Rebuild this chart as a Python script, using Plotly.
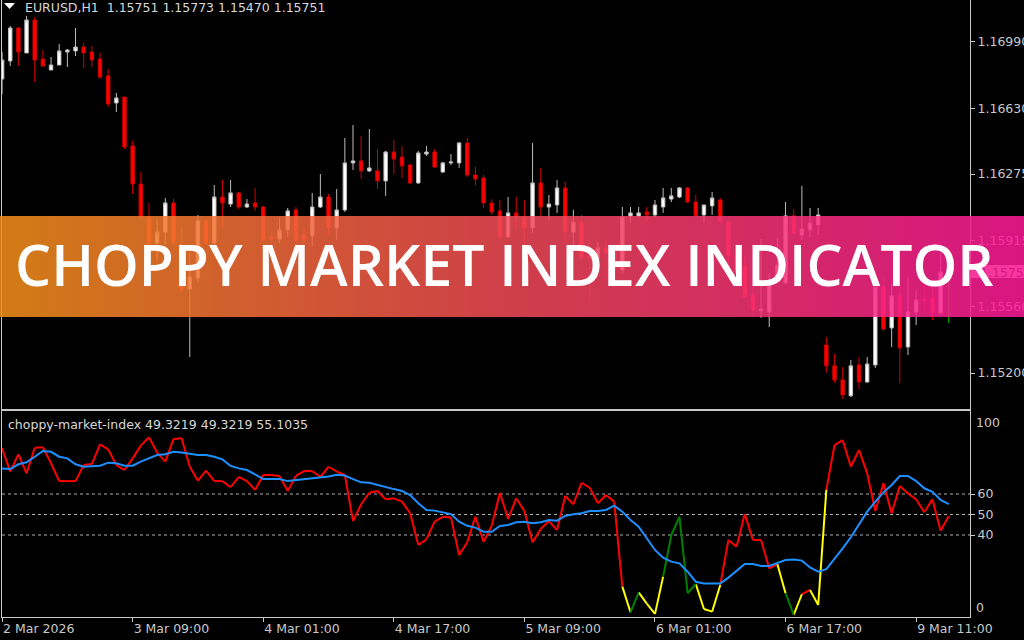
import base64
import plotly.graph_objects as go

# ---------------- data ----------------
opens = [1.16788,1.16886,1.17064,1.16929,1.17107,1.16896,1.16837,1.16864,1.16934,1.16940,
         1.16961,1.16934,1.16896,1.16805,1.16659,1.16691,1.16427,1.16221,1.16043,1.15903,
         1.15962,1.16119,1.15892,1.15654,1.15714,1.16022,1.15903,1.16151,1.16113,1.16173,
         1.16097,1.16119,1.16097,1.15935,1.15924,1.15973,1.16081,1.15946,1.15941,1.16097,
         1.16151,1.15984,1.16081,1.16335,1.16346,1.16292,1.16292,1.16238,1.16394,1.16367,
         1.16324,1.16227,1.16383,1.16394,1.16286,1.16335,1.16335,1.16443,1.16270,1.16254,
         1.16119,1.16076,1.15935,1.16065,1.16043,1.15984,1.16227,1.16097,1.16108,1.16200,
         1.15962,1.16016,1.15833,1.15822,1.15876,1.15849,1.15757,1.16049,1.16049,1.16070,
         1.16054,1.16097,1.16140,1.16151,1.16200,1.16124,1.16054,1.16103,1.16135,1.16016,
         1.15833,1.15779,1.15622,1.15536,1.15530,1.15692,1.15687,1.16049,1.15946,1.15973,
         1.16000,1.15352,1.15239,1.15163,1.15077,1.15244,1.15152,1.15244,1.15665,1.15444,
         1.15617,1.15341,1.15530,1.15595,1.15606,1.15525,1.15751]
highs = [1.16934,1.17075,1.17069,1.17129,1.17123,1.16945,1.16907,1.16977,1.16950,1.17064,
         1.16983,1.16967,1.16929,1.16842,1.16713,1.16691,1.16454,1.16286,1.16119,1.16027,
         1.16146,1.16140,1.15989,1.15849,1.16054,1.16027,1.16216,1.16243,1.16243,1.16178,
         1.16140,1.16200,1.16103,1.15962,1.16038,1.16092,1.16097,1.15984,1.16173,1.16275,
         1.16167,1.16194,1.16470,1.16540,1.16481,1.16518,1.16410,1.16400,1.16459,1.16427,
         1.16329,1.16400,1.16427,1.16410,1.16340,1.16383,1.16448,1.16470,1.16313,1.16270,
         1.16140,1.16135,1.16151,1.16151,1.16135,1.16443,1.16308,1.16162,1.16243,1.16232,
         1.16081,1.16054,1.15908,1.15908,1.15919,1.15865,1.16097,1.16097,1.16097,1.16097,
         1.16135,1.16200,1.16200,1.16205,1.16205,1.16162,1.16108,1.16178,1.16146,1.16027,
         1.15881,1.15838,1.15687,1.15924,1.15741,1.15930,1.16124,1.16086,1.16211,1.16092,
         1.16092,1.15395,1.15303,1.15233,1.15271,1.15287,1.15287,1.15703,1.15719,1.15687,
         1.15676,1.15719,1.15649,1.15676,1.15687,1.15849,1.15773]
lows = [1.16707,1.16859,1.16859,1.16929,1.16772,1.16853,1.16837,1.16864,1.16853,1.16913,
        1.16848,1.16853,1.16788,1.16637,1.16610,1.16410,1.16167,1.16027,1.15892,1.15811,
        1.15892,1.15892,1.15638,1.15287,1.15687,1.15892,1.15892,1.15989,1.16097,1.16086,
        1.16092,1.16076,1.15908,1.15881,1.15903,1.15935,1.15892,1.15881,1.15881,1.16092,
        1.15946,1.15919,1.16070,1.16297,1.16248,1.16286,1.16194,1.16157,1.16275,1.16254,
        1.16221,1.16221,1.16373,1.16308,1.16281,1.16324,1.16308,1.16259,1.16216,1.16092,
        1.16054,1.15924,1.15930,1.15984,1.15892,1.15957,1.16049,1.16027,1.16065,1.15903,
        1.15881,1.15811,1.15579,1.15784,1.15703,1.15730,1.15741,1.16011,1.16043,1.16016,
        1.16043,1.16065,1.16124,1.16146,1.16119,1.16043,1.16011,1.16054,1.16011,1.15714,
        1.15703,1.15606,1.15514,1.15498,1.15449,1.15687,1.15676,1.15946,1.15919,1.15935,
        1.15946,1.15201,1.15147,1.15060,1.15071,1.15114,1.15147,1.15228,1.15428,1.15341,
        1.15147,1.15298,1.15460,1.15530,1.15487,1.15514,1.15470]
closes = [1.16891,1.17064,1.16934,1.17107,1.16891,1.16859,1.16864,1.16940,1.16945,1.16961,
          1.16929,1.16891,1.16799,1.16653,1.16686,1.16421,1.16221,1.16043,1.15903,1.15962,
          1.16119,1.15903,1.15649,1.15719,1.16022,1.15903,1.16151,1.16119,1.16173,1.16097,
          1.16113,1.16097,1.15919,1.15924,1.15973,1.16076,1.15919,1.15919,1.16097,1.16151,
          1.15984,1.16081,1.16335,1.16346,1.16292,1.16308,1.16238,1.16394,1.16356,1.16319,
          1.16227,1.16389,1.16394,1.16313,1.16335,1.16340,1.16443,1.16270,1.16248,1.16119,
          1.16070,1.15935,1.16065,1.16043,1.15984,1.16227,1.16097,1.16113,1.16200,1.15962,
          1.16016,1.15822,1.15822,1.15876,1.15849,1.15757,1.16043,1.16065,1.16065,1.16054,
          1.16108,1.16146,1.16157,1.16200,1.16124,1.16049,1.16108,1.16146,1.16016,1.15833,
          1.15746,1.15611,1.15541,1.15546,1.15692,1.15784,1.16049,1.15957,1.15978,1.16011,
          1.16054,1.15239,1.15163,1.15082,1.15239,1.15152,1.15249,1.15665,1.15438,1.15617,
          1.15336,1.15530,1.15595,1.15590,1.15525,1.15746,1.15751]

cmi = [82.3,70.9,79.4,70.1,82.6,82.8,75.0,66.3,66.3,66.3,
       74.1,74.6,84.2,81.8,74.1,71.7,77.4,83.6,87.7,80.2,
       75.8,86.8,87.2,73.3,66.5,71.4,66.3,66.3,63.3,68.4,
       66.3,62.0,69.3,69.3,68.8,61.5,68.8,71.2,71.2,68.4,
       73.3,71.0,69.3,46.8,55.0,60.6,61.5,57.4,57.9,56.3,
       50.6,35.1,37.9,46.5,48.9,48.6,30.2,36.4,48.9,36.7,
       44.5,60.6,47.8,57.9,51.7,36.4,42.9,46.8,42.4,59.0,
       55.0,65.5,63.1,55.5,59.5,56.3,14.8,2.3,12.0,6.5,
       1.5,19.7,40.0,48.9,11.6,16.1,3.9,2.6,15.6,37.6,
       34.3,50.2,37.6,37.6,23.7,25.7,11.6,1.0,11.1,13.2,
       5.9,62.0,83.9,86.3,73.3,81.5,70.1,51.7,65.2,50.6,
       63.9,60.3,57.4,51.1,57.4,42.1,49.3]
cmi_signal = [72.5,72.2,74.5,75.5,78.2,81.0,80.6,78.2,77.4,74.5,
              73.3,73.7,73.8,75.3,75.0,73.8,73.8,75.8,77.4,79.0,
              79.4,80.6,80.3,79.8,79.0,79.0,78.2,76.9,73.7,72.5,
              71.7,69.6,67.3,67.3,67.3,66.3,66.8,67.3,67.7,68.0,
              68.6,69.4,69.0,67.3,65.7,65.5,64.4,63.3,62.4,61.5,
              59.5,55.5,52.2,51.9,51.1,50.2,46.5,44.5,43.6,41.6,
              41.6,44.4,44.9,46.2,46.5,45.7,46.2,47.3,47.0,49.3,
              50.1,50.6,51.7,51.7,52.2,54.3,51.4,47.3,44.1,38.4,
              32.7,28.9,27.0,26.2,22.1,17.2,16.4,16.4,16.4,19.2,
              22.4,25.9,25.9,24.9,24.9,26.2,27.8,28.1,27.5,24.2,
              22.1,23.3,28.3,33.5,38.9,44.9,51.4,56.3,60.8,64.4,
              68.8,68.8,66.3,62.8,61.1,57.1,55.1]
# state of each CMI segment (between bar k and bar k+1): r = choppy, y / g = trending
cmi_state = list("r" * 76 + "ygyyygggg" + "yyy" + "rrrrrrr" + "ygyryy" + "r" * 15)

time_tick_bars = [0, 16, 32, 48, 64, 80, 96, 112]
time_tick_text = ["2 Mar 2026", "3 Mar 09:00", "4 Mar 01:00", "4 Mar 17:00",
                  "5 Mar 09:00", "6 Mar 01:00", "6 Mar 17:00", "9 Mar 11:00"]
price_ticks = [1.16990, 1.16630, 1.16275, 1.15915, 1.15560, 1.15200]
current_price = 1.15751
levels = [60, 50, 40]
symbol_header = "EURUSD,H1\u00a0\u00a01.15751 1.15773 1.15470 1.15751"
indicator_header = "choppy-market-index 49.3219 49.3219 55.1035"
banner_title = "CHOPPY MARKET INDEX INDICATOR"

# ---------------- figure ----------------
W, H = 1024, 640
bars = list(range(len(opens)))
n = len(opens)

def px(xp):
    return xp / W

def py(yp):
    return 1 - yp / H

FONT = "DejaVu Sans"
TXT = "#c8c8c8"
FRAME = "#c8c8c8"

fig = go.Figure()

fig.add_trace(go.Candlestick(
    x=bars[:-1], open=opens[:-1], high=highs[:-1], low=lows[:-1], close=closes[:-1],
    increasing=dict(line=dict(color="#bdbdbd", width=1), fillcolor="#ffffff"),
    decreasing=dict(line=dict(color="#d40000", width=1), fillcolor="#ff0000"),
    whiskerwidth=0, hoverinfo="skip", xaxis="x", yaxis="y"))
fig.add_trace(go.Candlestick(
    x=bars[-1:], open=opens[-1:], high=highs[-1:], low=lows[-1:], close=closes[-1:],
    increasing=dict(line=dict(color="#00c800", width=1), fillcolor="#00c800"),
    decreasing=dict(line=dict(color="#00c800", width=1), fillcolor="#00c800"),
    whiskerwidth=0, hoverinfo="skip", xaxis="x", yaxis="y"))

state_colors = {"r": "#ff0000", "y": "#ffff00", "g": "#008000"}
for st, col in state_colors.items():
    xs, ys = [], []
    for k in range(n - 1):
        if cmi_state[k] == st:
            xs += [bars[k], bars[k + 1], None]
            ys += [cmi[k], cmi[k + 1], None]
    fig.add_trace(go.Scatter(x=xs, y=ys, mode="lines", line=dict(color=col, width=2),
                             hoverinfo="skip", xaxis="x2", yaxis="y2", connectgaps=False))
fig.add_trace(go.Scatter(x=bars, y=cmi_signal, mode="lines",
                         line=dict(color="#1e90ff", width=2), hoverinfo="skip",
                         xaxis="x2", yaxis="y2"))

xdom = [px(2), px(970)]
xrange = [-0.01, 118.6]
axis_common = dict(showgrid=False, zeroline=False, showline=True, linecolor=FRAME,
                   linewidth=1, mirror=True, automargin=False)

fig.update_layout(
    width=W, height=H, margin=dict(l=0, r=0, t=0, b=0, pad=0, autoexpand=False),
    paper_bgcolor="#000000", plot_bgcolor="#000000",
    showlegend=False, boxgap=0.4,
    xaxis=dict(domain=xdom, range=xrange, showticklabels=False, ticks="",
               rangeslider=dict(visible=False), anchor="y", **axis_common),
    yaxis=dict(domain=[py(409), 1], range=[1.15006, 1.17215], side="right", anchor="x",
               tickvals=price_ticks, ticktext=[f"{v:.5f}" for v in price_ticks],
               ticks="outside", ticklen=4, tickcolor=FRAME,
               tickfont=dict(family=FONT, size=12.5, color=TXT), **axis_common),
    xaxis2=dict(domain=xdom, range=xrange, anchor="y2", tickvals=time_tick_bars,
                ticktext=time_tick_text, ticks="outside", ticklen=4, tickcolor=FRAME,
                ticklabelposition="outside right",
                tickfont=dict(family=FONT, size=12.5, color=TXT), **axis_common),
    yaxis2=dict(domain=[py(617), py(411)], range=[0, 100.5], side="right", anchor="x2",
                tickvals=levels, ticks="outside", ticklen=4, tickcolor=FRAME,
                tickfont=dict(family=FONT, size=12.5, color=TXT), **axis_common),
)

for lv in levels:
    fig.add_shape(type="line", xref="x2 domain", yref="y2", x0=0, x1=1, y0=lv, y1=lv,
                  line=dict(color="#b0b0b0", width=1, dash="3px,3px"), layer="below")

fig.add_shape(type="rect", xref="paper", yref="paper", x0=px(971), x1=1.0,
              y0=py(278), y1=py(265), fillcolor="#d8d8d8", line=dict(width=0),
              layer="below",
              label=dict(text=f"{current_price:.5f}", textposition="middle left",
                         font=dict(family=FONT, size=12.5, color="#000000"), padding=6))

fig.add_shape(type="path", xref="paper", yref="paper",
              path=f"M {px(4)} {py(3)} L {px(15)} {py(3)} L {px(9.5)} {py(9)} Z",
              fillcolor="#ffffff", line=dict(width=0))

svg = ('<svg xmlns="http://www.w3.org/2000/svg" width="1024" height="102" '
       'preserveAspectRatio="none" viewBox="0 0 1024 102">'
       '<defs><linearGradient id="g" x1="0" y1="0" x2="1" y2="0">'
       '<stop offset="0" stop-color="#f5901a"/>'
       '<stop offset="0.5" stop-color="#f24a56"/>'
       '<stop offset="1" stop-color="#fc1a97"/>'
       '</linearGradient></defs>'
       '<rect x="0" y="0" width="1024" height="102" fill="url(#g)"/></svg>')
fig.add_layout_image(dict(
    source="data:image/svg+xml;base64," + base64.b64encode(svg.encode()).decode(),
    xref="paper", yref="paper", x=0, y=py(216), sizex=1, sizey=101 / H,
    xanchor="left", yanchor="top", sizing="stretch", opacity=0.86, layer="above"))

annots = [
    dict(text=symbol_header, x=px(23), y=py(8), xanchor="left", yanchor="middle",
         font=dict(family=FONT, size=12.5, color="#d8d8d8")),
    dict(text=indicator_header, x=px(6), y=py(424), xanchor="left", yanchor="middle",
         font=dict(family=FONT, size=12.5, color="#d8d8d8")),
    dict(text="100", x=px(974), y=py(422), xanchor="left", yanchor="middle",
         font=dict(family=FONT, size=12.5, color=TXT)),
    dict(text="0", x=px(974), y=py(607), xanchor="left", yanchor="middle",
         font=dict(family=FONT, size=12.5, color=TXT)),
    dict(text=banner_title, x=px(504), y=py(264), xanchor="center", yanchor="middle",
         font=dict(family="Open Sans", size=57, color="#ffffff", weight=600)),
]
for a in annots:
    fig.add_annotation(xref="paper", yref="paper", showarrow=False, **a)

fig.write_html("out.html", config={"displayModeBar": False},
               post_script="document.body.style.margin='0';document.body.style.overflow='hidden';")
